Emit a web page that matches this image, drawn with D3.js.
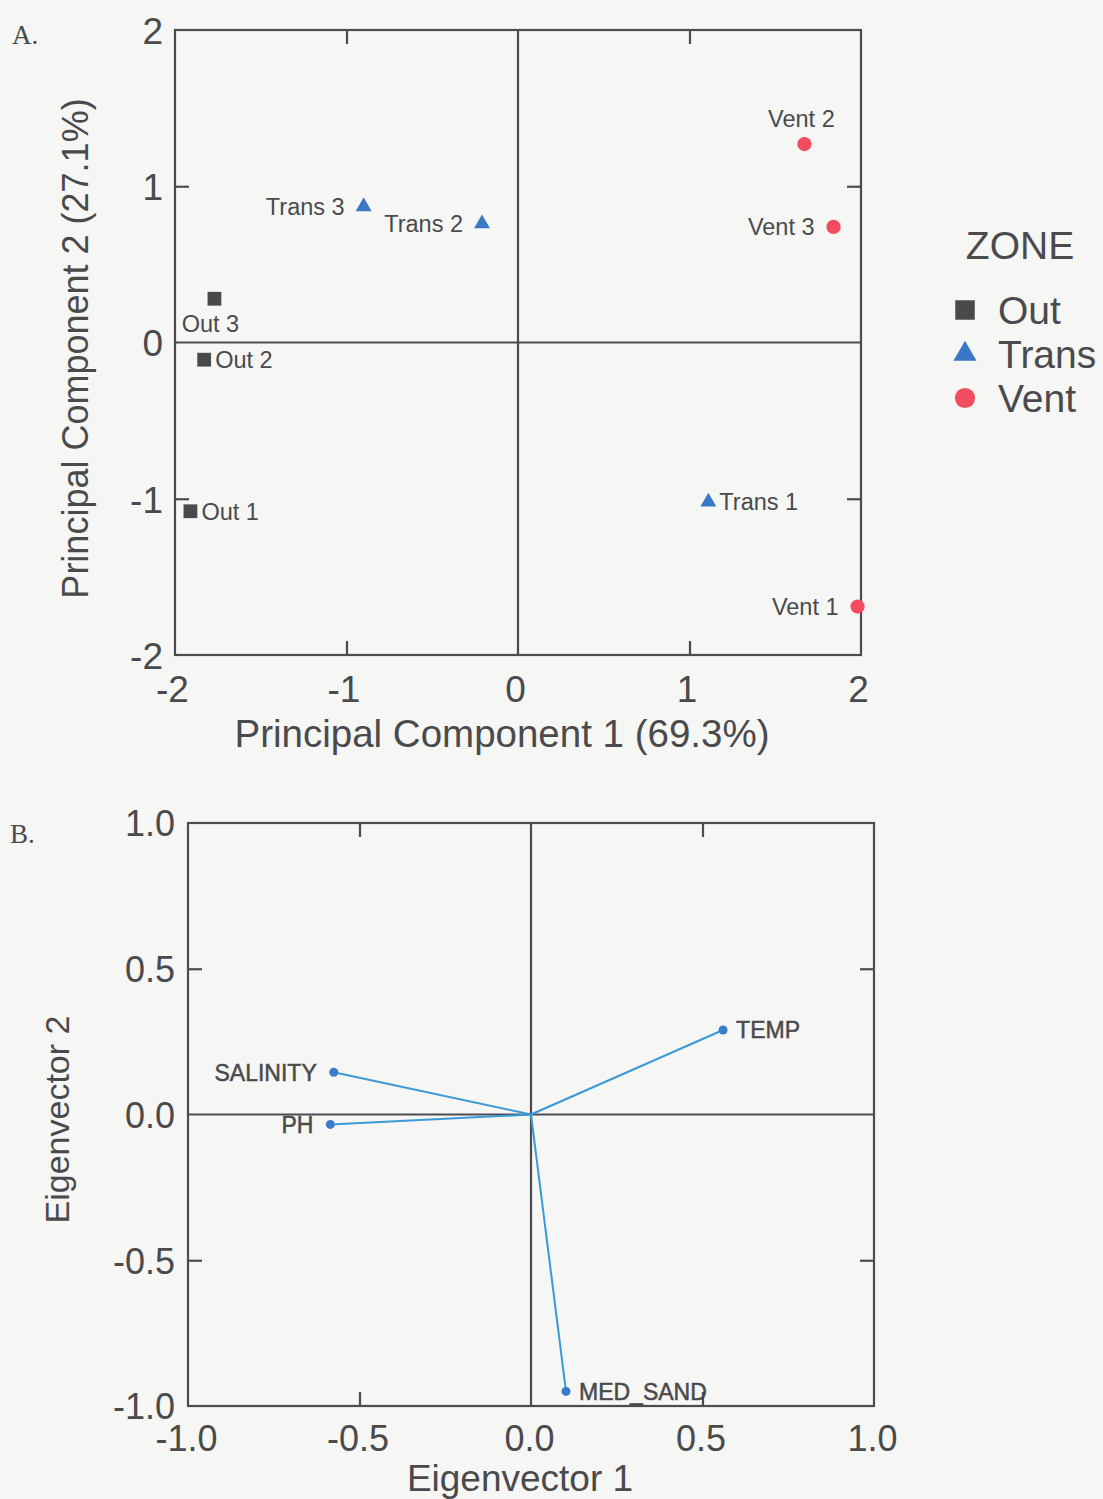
<!DOCTYPE html>
<html>
<head>
<meta charset="utf-8">
<script src="https://cdn.jsdelivr.net/npm/d3@7"></script>
<style>
  html, body { margin: 0; padding: 0; background: #f6f6f4; }
  svg { display: block; }
  text { font-family: "Liberation Sans", Arial, sans-serif; fill: #4a4a4c; }
</style>
</head>
<body>
<svg id="fig" width="1103" height="1499"></svg>
<script>
// ---------- Panel A: PCA site scores ----------
const siteNames = ["Out 1", "Out 2", "Out 3", "Trans 1", "Trans 2", "Trans 3", "Vent 1", "Vent 2", "Vent 3"];
const siteZones = ["Out", "Out", "Out", "Trans", "Trans", "Trans", "Vent", "Vent", "Vent"];
const pc1Scores = [-1.91, -1.83, -1.77, 1.11, -0.21, -0.90, 1.98, 1.67, 1.84];
const pc2Scores = [-1.08, -0.11, 0.28, -1.02, 0.76, 0.87, -1.69, 1.27, 0.74];
const zoneOrder = ["Out", "Trans", "Vent"];
const pcTicks = [-2, -1, 0, 1, 2];

// ---------- Panel B: variable eigenvectors ----------
const variableNames = ["TEMP", "SALINITY", "PH", "MED_SAND"];
const eigen1 = [0.56, -0.575, -0.585, 0.102];
const eigen2 = [0.29, 0.145, -0.034, -0.95];
const eigTicks = [-1.0, -0.5, 0.0, 0.5, 1.0];

const svg = d3.select("#fig");
const axisColor = "#4d4a52";

// label placement around each marker
const sitePlace = {
  "Out 1": "right", "Out 2": "right", "Out 3": "below",
  "Trans 1": "right", "Trans 2": "left", "Trans 3": "left",
  "Vent 1": "left", "Vent 2": "above", "Vent 3": "left"
};
const varPlace = { "TEMP": "right", "SALINITY": "left", "PH": "left", "MED_SAND": "right" };

const zoneSymbol = d3.scaleOrdinal().domain(zoneOrder)
  .range([d3.symbolSquare, d3.symbolTriangle, d3.symbolCircle]);
const zoneColor = d3.scaleOrdinal().domain(zoneOrder)
  .range(["#4a4a4c", "#3a78c6", "#f24d5e"]);
const zoneSize = d3.scaleOrdinal().domain(zoneOrder).range([190, 110, 160]);

// Draws a boxed frame with zero cross-lines, inward minor ticks and outer tick labels
function framedPanel(x, y, ticks, fmt, innerTicks, opts) {
  const g = svg.append("g");
  const [x0, x1] = x.range();
  const [y0, y1] = y.range(); // y0 bottom, y1 top
  const tickLen = 14;

  // frame
  g.append("rect")
    .attr("x", x0).attr("y", y1)
    .attr("width", x1 - x0).attr("height", y0 - y1)
    .attr("fill", "none").attr("stroke", axisColor).attr("stroke-width", 2.2);

  // zero cross lines
  g.append("line").attr("x1", x(0)).attr("x2", x(0)).attr("y1", y1).attr("y2", y0)
    .attr("stroke", axisColor).attr("stroke-width", 2.2);
  g.append("line").attr("x1", x0).attr("x2", x1).attr("y1", y(0)).attr("y2", y(0))
    .attr("stroke", axisColor).attr("stroke-width", 2.2);

  // inward ticks on all four sides
  const sides = [
    [d3.axisBottom(x), `translate(0,${y0})`],
    [d3.axisTop(x), `translate(0,${y1})`],
    [d3.axisLeft(y), `translate(${x0},0)`],
    [d3.axisRight(y), `translate(${x1},0)`]
  ];
  sides.forEach(([ax, tr]) => {
    const a = g.append("g").attr("transform", tr)
      .call(ax.tickValues(innerTicks).tickSize(-tickLen).tickFormat(""));
    a.select(".domain").remove();
    a.selectAll(".tick line").attr("stroke", axisColor).attr("stroke-width", 2.2);
  });

  // tick labels
  const xl = g.append("g").attr("transform", `translate(0,${y0})`)
    .call(d3.axisBottom(x).tickValues(ticks).tickSize(0).tickFormat(fmt));
  xl.select(".domain").remove();
  xl.selectAll("text")
    .attr("y", opts.xLabelOffset).attr("dy", 0).attr("dx", opts.xLabelShift)
    .style("font-family", '"Liberation Sans", Arial, sans-serif')
    .style("font-size", opts.tickFont + "px").attr("fill", "#4a4a4c");

  const yl = g.append("g").attr("transform", `translate(${x0},0)`)
    .call(d3.axisLeft(y).tickValues(ticks).tickSize(0).tickFormat(fmt));
  yl.select(".domain").remove();
  yl.selectAll("text")
    .attr("x", -opts.yLabelGap).attr("dy", "0.36em")
    .style("font-family", '"Liberation Sans", Arial, sans-serif')
    .style("font-size", opts.tickFont + "px").attr("fill", "#4a4a4c");
  return g;
}

function placeLabel(sel, px, py, side, gapR, gapL) {
  if (side === "right") {
    sel.attr("x", px + gapR).attr("y", py).attr("dy", "0.36em").attr("text-anchor", "start");
  } else if (side === "left") {
    sel.attr("x", px - gapL).attr("y", py).attr("dy", "0.36em").attr("text-anchor", "end");
  } else if (side === "above") {
    sel.attr("x", px - 3).attr("y", py - 17).attr("text-anchor", "middle");
  } else {
    sel.attr("x", px - 4).attr("y", py + 33).attr("text-anchor", "middle");
  }
}

// ================= Panel A =================
const xA = d3.scaleLinear().domain([-2, 2]).range([175, 861]);
const yA = d3.scaleLinear().domain([-2, 2]).range([655, 30]);

framedPanel(xA, yA, pcTicks, d => String(d), [-1, 1],
  { xLabelOffset: 47, xLabelShift: -3, yLabelGap: 12, tickFont: 37 });

svg.append("text").attr("x", 12).attr("y", 44)
  .style("font-family", '"Liberation Serif", "Times New Roman", serif')
  .style("font-size", "27px").text("A.");

svg.append("text")
  .attr("x", 502).attr("y", 747)
  .attr("text-anchor", "middle").style("font-size", "38.5px")
  .text("Principal Component 1 (69.3%)");

svg.append("text")
  .attr("transform", `translate(88,${(yA(-2) + yA(2)) / 2 + 6}) rotate(-90)`)
  .attr("text-anchor", "middle").style("font-size", "36px")
  .text("Principal Component 2 (27.1%)");

const sites = siteNames.map((n, i) => ({
  name: n, zone: siteZones[i], x: pc1Scores[i], y: pc2Scores[i]
}));

const siteG = svg.append("g");
siteG.selectAll("path.site").data(sites).enter().append("path")
  .attr("class", "site")
  .attr("transform", d => `translate(${xA(d.x)},${yA(d.y)})`)
  .attr("d", d => d3.symbol().type(zoneSymbol(d.zone)).size(zoneSize(d.zone))())
  .attr("fill", d => zoneColor(d.zone));

siteG.selectAll("text.site").data(sites).enter().append("text")
  .attr("class", "site").style("font-size", "23.5px")
  .each(function (d) {
    placeLabel(d3.select(this), xA(d.x), yA(d.y), sitePlace[d.name], 11, 19);
  })
  .text(d => d.name);

// legend
const leg = svg.append("g");
leg.append("text").attr("x", 1020).attr("y", 259).attr("text-anchor", "middle")
  .style("font-size", "39px").text("ZONE");
const legItems = leg.selectAll("g.item").data(zoneOrder).enter().append("g")
  .attr("class", "item")
  .attr("transform", (d, i) => `translate(965,${310 + i * 44})`);
legItems.append("path")
  .attr("d", d => d3.symbol().type(zoneSymbol(d)).size(d === "Out" ? 380 : d === "Trans" ? 230 : 320)())
  .attr("fill", d => zoneColor(d));
legItems.append("text").attr("x", 33).attr("dy", "0.36em")
  .style("font-size", "39px").text(d => d);

// ================= Panel B =================
const xB = d3.scaleLinear().domain([-1, 1]).range([188, 874]);
const yB = d3.scaleLinear().domain([-1, 1]).range([1406, 823]);

framedPanel(xB, yB, eigTicks, d => d.toFixed(1), [-0.5, 0.5],
  { xLabelOffset: 45, xLabelShift: -2, yLabelGap: 13, tickFont: 36 });

svg.append("text").attr("x", 10).attr("y", 843)
  .style("font-family", '"Liberation Serif", "Times New Roman", serif')
  .style("font-size", "27px").text("B.");

svg.append("text")
  .attr("x", 520).attr("y", 1491)
  .attr("text-anchor", "middle").style("font-size", "37px")
  .text("Eigenvector 1");

svg.append("text")
  .attr("transform", `translate(69,${(yB(-1) + yB(1)) / 2 + 5}) rotate(-90)`)
  .attr("text-anchor", "middle").style("font-size", "34px")
  .text("Eigenvector 2");

const vars = variableNames.map((n, i) => ({ name: n, x: eigen1[i], y: eigen2[i] }));
const vecG = svg.append("g");
vecG.selectAll("line.vec").data(vars).enter().append("line")
  .attr("class", "vec")
  .attr("x1", xB(0)).attr("y1", yB(0))
  .attr("x2", d => xB(d.x)).attr("y2", d => yB(d.y))
  .attr("stroke", "#3b9ad6").attr("stroke-width", 2);
vecG.selectAll("circle.vec").data(vars).enter().append("circle")
  .attr("class", "vec")
  .attr("cx", d => xB(d.x)).attr("cy", d => yB(d.y)).attr("r", 4.5)
  .attr("fill", "#3a7ccc");
vecG.selectAll("text.vec").data(vars).enter().append("text")
  .attr("class", "vec").style("font-size", "23px")
  .style("stroke", "#4a4a4c").style("stroke-width", 0.5)
  .each(function (d) {
    placeLabel(d3.select(this), xB(d.x), yB(d.y), varPlace[d.name], 13, 17);
  })
  .text(d => d.name);
</script>
</body>
</html>
